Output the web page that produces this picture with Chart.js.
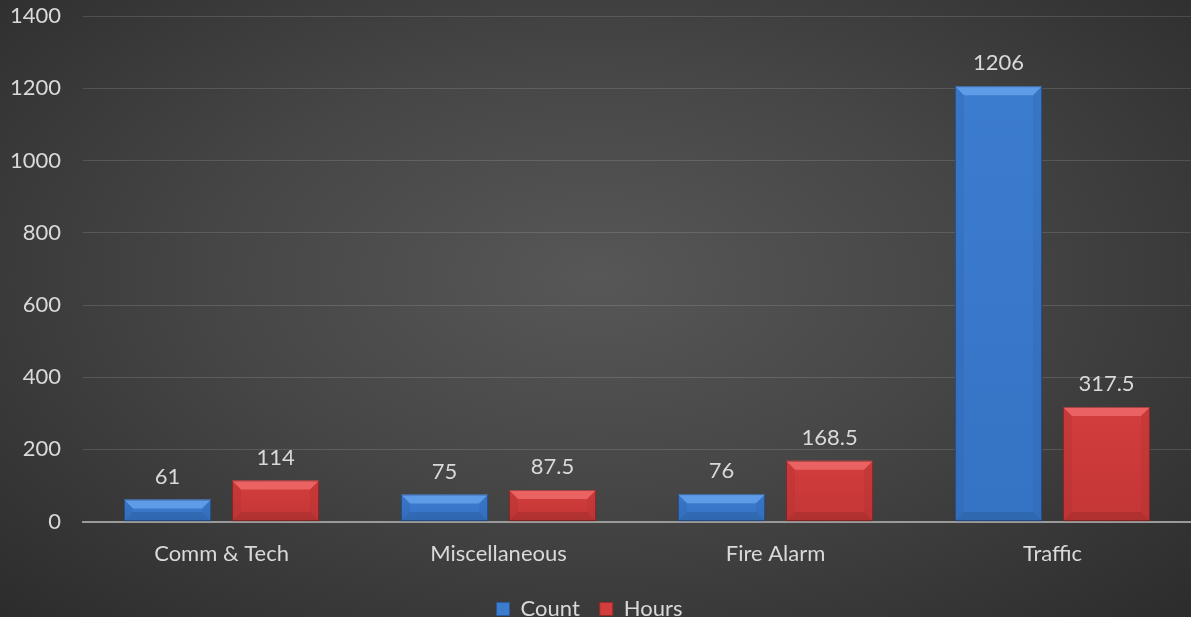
<!DOCTYPE html>
<html>
<head>
<meta charset="utf-8">
<script src="https://cdn.jsdelivr.net/npm/chart.js@4.4.1/dist/chart.umd.min.js"></script>
<style>
  html, body { margin: 0; padding: 0; }
  body {
    position: relative;
    width: 1191px;
    height: 617px;
    overflow: hidden;
    background: radial-gradient(ellipse at 50% 45%, #575757 0%, #464646 45%, #2c2c2c 100%);
  }
  /* canvas runs a little above the page so the top gridline sits near the edge */
  #wrap { position: absolute; left: 0; top: -19px; width: 1191px; height: 636px; }
</style>
</head>
<body>
<div id="wrap"><canvas id="chart"></canvas></div>
<script>
const categories = ['Comm & Tech', 'Miscellaneous', 'Fire Alarm', 'Traffic'];
const countValues = [61, 75, 76, 1206];
const hoursValues = [114, 87.5, 168.5, 317.5];
const yTicks = [0, 200, 400, 600, 800, 1000, 1200, 1400];

const textColor = '#d9d9d9';
const fontFamily = 'Lato, "Open Sans", sans-serif';
const fontSize = 22;

// per-series shading used for the bevelled bars
const shades = [
  { main: '#3c7ccf', light: '#5f9ce8', dark: '#2a5a99', side: '#3573c4' },
  { main: '#d33d3d', light: '#ea6262', dark: '#9a2a2a', side: '#c43636' }
];

// draws a bevelled rectangle on top of each bar
const bevelBars = {
  id: 'bevelBars',
  afterDatasetsDraw(chart) {
    const ctx = chart.ctx;
    chart.data.datasets.forEach((ds, di) => {
      const meta = chart.getDatasetMeta(di);
      const s = shades[di];
      meta.data.forEach(bar => {
        const l = bar.x - bar.width / 2;
        const r = bar.x + bar.width / 2;
        const t = bar.y;
        const b = bar.base;
        const h = b - t;
        const bv = Math.min(9, h / 2);
        ctx.save();
        // body
        const g = ctx.createLinearGradient(0, t, 0, b);
        g.addColorStop(0, s.main);
        g.addColorStop(1, s.side);
        ctx.fillStyle = g;
        ctx.fillRect(l, t, r - l, h);
        // top bevel
        ctx.fillStyle = s.light;
        ctx.beginPath();
        ctx.moveTo(l, t); ctx.lineTo(r, t); ctx.lineTo(r - bv, t + bv); ctx.lineTo(l + bv, t + bv);
        ctx.closePath(); ctx.fill();
        // bottom bevel
        ctx.fillStyle = s.dark;
        ctx.globalAlpha = 0.45;
        ctx.beginPath();
        ctx.moveTo(l, b); ctx.lineTo(r, b); ctx.lineTo(r - bv, b - bv); ctx.lineTo(l + bv, b - bv);
        ctx.closePath(); ctx.fill();
        // side bevels
        ctx.globalAlpha = 0.18;
        ctx.beginPath();
        ctx.moveTo(l, t); ctx.lineTo(l + bv, t + bv); ctx.lineTo(l + bv, b - bv); ctx.lineTo(l, b);
        ctx.closePath(); ctx.fill();
        ctx.beginPath();
        ctx.moveTo(r, t); ctx.lineTo(r - bv, t + bv); ctx.lineTo(r - bv, b - bv); ctx.lineTo(r, b);
        ctx.closePath(); ctx.fill();
        ctx.globalAlpha = 1;
        ctx.strokeStyle = 'rgba(0,0,0,0.3)';
        ctx.lineWidth = 1;
        ctx.strokeRect(l + 0.5, t + 0.5, r - l - 1, h - 1);
        ctx.restore();
      });
    });
  }
};

// value labels above bars
const valueLabels = {
  id: 'valueLabels',
  afterDatasetsDraw(chart) {
    const ctx = chart.ctx;
    ctx.save();
    ctx.fillStyle = textColor;
    ctx.font = fontSize + 'px ' + fontFamily;
    ctx.textAlign = 'center';
    ctx.textBaseline = 'bottom';
    chart.data.datasets.forEach((ds, di) => {
      chart.getDatasetMeta(di).data.forEach((bar, i) => {
        ctx.fillText(String(ds.data[i]), bar.x, bar.y - 12);
      });
    });
    ctx.restore();
  }
};

new Chart(document.getElementById('chart'), {
  type: 'bar',
  data: {
    labels: categories,
    datasets: [
      { label: 'Count', data: countValues, backgroundColor: 'rgba(0,0,0,0)' },
      { label: 'Hours', data: hoursValues, backgroundColor: 'rgba(0,0,0,0)' }
    ]
  },
  options: {
    responsive: true,
    maintainAspectRatio: false,
    animation: false,
    categoryPercentage: 0.78,
    barPercentage: 0.806,
    layout: { padding: { top: 0, right: 0, left: -12, bottom: -13 } },
    scales: {
      x: {
        grid: { display: false },
        border: { color: '#9a9a9a', width: 2 },
        ticks: { color: textColor, font: { size: fontSize, family: fontFamily }, padding: 11 }
      },
      y: {
        min: 0,
        max: 1400,
        afterBuildTicks(scale) { scale.ticks = yTicks.map(v => ({ value: v })); },
        grid: { color: 'rgba(255,255,255,0.13)', drawTicks: false },
        border: { display: false },
        ticks: {
          color: textColor,
          font: { size: fontSize, family: fontFamily },
          padding: 22,
          callback: v => String(v)
        }
      }
    },
    plugins: {
      legend: {
        position: 'bottom',
        labels: {
          color: textColor,
          font: { size: fontSize, family: fontFamily },
          boxWidth: 13,
          boxHeight: 13,
          padding: 20,
          generateLabels(chart) {
            return chart.data.datasets.map((ds, i) => ({
              text: ds.label,
              fillStyle: shades[i].main,
              strokeStyle: shades[i].dark,
              lineWidth: 1,
              fontColor: textColor,
              datasetIndex: i
            }));
          }
        }
      },
      tooltip: { enabled: false }
    }
  },
  plugins: [bevelBars, valueLabels]
});
</script>
</body>
</html>
